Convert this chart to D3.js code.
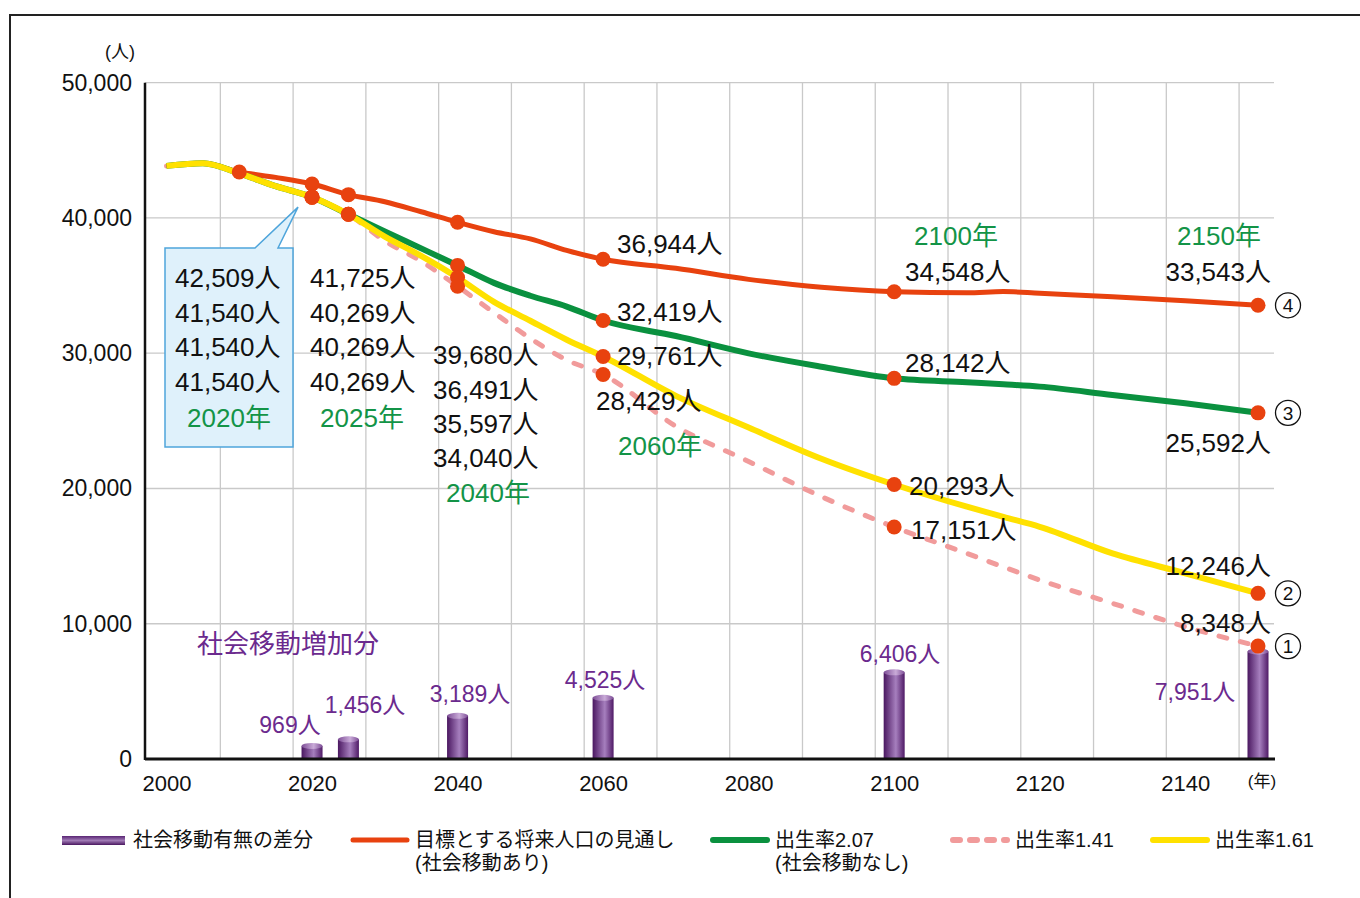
<!DOCTYPE html>
<html lang="ja">
<head>
<meta charset="utf-8">
<script src="https://cdn.jsdelivr.net/npm/d3@7"></script>
<style>
  body { margin: 0; background: #fff; }
  svg text { font-family: "Liberation Sans", "Noto Sans CJK JP", sans-serif; }
</style>
</head>
<body>
<svg id="chart" width="1360" height="898"></svg>
<script>
// ---- data ----
const years      = [2000, 2005, 2010, 2015, 2020, 2025, 2030, 2035, 2040, 2045, 2050, 2055, 2060, 2070, 2080, 2090, 2100, 2110, 2115, 2120, 2130, 2140, 2150];
const targetPop  = [43850, 44050, 43400, 43000, 42509, 41725, 41200, 40460, 39680, 38980, 38450, 37600, 36944, 36280, 35460, 34870, 34548, 34470, 34560, 34430, 34180, 33880, 33543];
const rate207    = [43850, 44050, 43300, 42350, 41540, 40269, 39000, 37750, 36491, 35200, 34250, 33450, 32419, 31270, 29990, 29000, 28142, 27850, 27700, 27530, 26910, 26300, 25592];
const rate161    = [43850, 44050, 43300, 42350, 41540, 40269, 38620, 37200, 35597, 33800, 32400, 31000, 29761, 26850, 24500, 22200, 20293, 18650, 17900, 17170, 15200, 13730, 12246];
const rate141    = [43850, 44050, 43300, 42350, 41540, 40269, 38300, 36800, 34950, 33000, 31100, 29500, 28429, 24600, 22000, 19400, 17151, 15200, 14200, 13230, 11510, 9780, 8348];

const milestoneYears   = [2020, 2025, 2040, 2060, 2100, 2150];
const targetReported   = [42509, 41725, 39680, 36944, 34548, 33543];
const rate207Reported  = [41540, 40269, 36491, 32419, 28142, 25592];
const rate161Reported  = [41540, 40269, 35597, 29761, 20293, 12246];
const rate141Reported  = [41540, 40269, 34040, 28429, 17151, 8348];
const socialDiff       = [969, 1456, 3189, 4525, 6406, 7951];

const yTicks = [0, 10000, 20000, 30000, 40000, 50000];
const xTicks = [2000, 2020, 2040, 2060, 2080, 2100, 2120, 2140];

// ---- setup ----
const svg = d3.select('#chart');
const plot = {left: 145, right: 1274, top: 82.7, bottom: 759};

const x = d3.scaleLinear().domain([2000, 2150]).range([166.5, 1258]);
const y = d3.scaleLinear().domain([0, 50000]).range([plot.bottom, plot.top]);

const fmt = d3.format(',');
const RED = '#e8420f', GREEN = '#0a913f', YELLOW = '#ffe100', PINK = '#f19b9b';
const PURPLE = '#6b2a8e', YEARGREEN = '#139447';

// outer frame
svg.append('rect')
    .attr('x', 10).attr('y', 15)
    .attr('width', 1400).attr('height', 1000)
    .attr('fill', 'none').attr('stroke', '#222').attr('stroke-width', 2);

// gradients for the cylinders
const defs = svg.append('defs');
const g1 = defs.append('linearGradient').attr('id', 'barGrad').attr('x1', 0).attr('x2', 1).attr('y1', 0).attr('y2', 0);
g1.append('stop').attr('offset', '0%').attr('stop-color', '#4a1760');
g1.append('stop').attr('offset', '58%').attr('stop-color', '#a67fbe');
g1.append('stop').attr('offset', '100%').attr('stop-color', '#4f1a66');
const g2 = defs.append('linearGradient').attr('id', 'capGrad').attr('x1', 0).attr('x2', 1).attr('y1', 0).attr('y2', 0);
g2.append('stop').attr('offset', '0%').attr('stop-color', '#7d4d96');
g2.append('stop').attr('offset', '58%').attr('stop-color', '#c9abd8');
g2.append('stop').attr('offset', '100%').attr('stop-color', '#7d4d96');
const g3 = defs.append('linearGradient').attr('id', 'legGrad').attr('x1', 0).attr('x2', 0).attr('y1', 0).attr('y2', 1);
g3.append('stop').attr('offset', '0%').attr('stop-color', '#5a2574');
g3.append('stop').attr('offset', '50%').attr('stop-color', '#a07ab5');
g3.append('stop').attr('offset', '100%').attr('stop-color', '#4a1760');

// gridlines
const grid = svg.append('g').attr('stroke', '#c9c9c9').attr('stroke-width', 1.3);
grid.selectAll('.hg')
    .data(yTicks.filter(d => d > 0))
  .join('line')
    .attr('x1', plot.left).attr('x2', plot.right)
    .attr('y1', d => y(d)).attr('y2', d => y(d));
// vertical grid sits between the category ticks (Excel style)
grid.selectAll('.vg')
    .data(d3.range(2007.4, 2150, 10))
  .join('line')
    .attr('x1', d => x(d)).attr('x2', d => x(d))
    .attr('y1', plot.top).attr('y2', plot.bottom);

// axes
const yAxis = d3.axisLeft(y).tickValues(yTicks).tickFormat(fmt).tickSize(0).tickPadding(13);
svg.append('g')
    .attr('transform', `translate(${plot.left},0)`)
    .call(yAxis)
    .call(g => g.select('.domain').remove())
    .selectAll('text')
    .attr('font-size', 23).attr('fill', '#111')
    .style('font-family', '"Liberation Sans", sans-serif');

const xAxis = d3.axisBottom(x).tickValues(xTicks).tickFormat(d3.format('d')).tickSize(0).tickPadding(16);
svg.append('g')
    .attr('transform', `translate(0,${plot.bottom})`)
    .call(xAxis)
    .call(g => g.select('.domain').remove())
    .selectAll('text')
    .attr('font-size', 22).attr('fill', '#111')
    .style('font-family', '"Liberation Sans", sans-serif');

svg.append('line')
    .attr('x1', plot.left).attr('x2', plot.left)
    .attr('y1', plot.top).attr('y2', plot.bottom + 1)
    .attr('stroke', '#111').attr('stroke-width', 2.5);

svg.append('text').attr('x', 135).attr('y', 52).attr('dy', '0.35em')
    .attr('text-anchor', 'end').attr('font-size', 18).attr('fill', '#111').text('(人)');
svg.append('text').attr('x', 1262).attr('y', 781).attr('dy', '0.35em')
    .attr('text-anchor', 'middle').attr('font-size', 17).attr('fill', '#111').text('(年)');

// ---- bars (social movement difference) ----
const barW = 21, capRy = 3;
const bars = svg.append('g');
milestoneYears.forEach((yr, i) => {
  const cx = x(yr), top = y(socialDiff[i]);
  bars.append('rect')
      .attr('x', cx - barW / 2).attr('y', top)
      .attr('width', barW).attr('height', plot.bottom - top)
      .attr('fill', 'url(#barGrad)');
  bars.append('ellipse')
      .attr('cx', cx).attr('cy', top)
      .attr('rx', barW / 2).attr('ry', capRy)
      .attr('fill', 'url(#capGrad)');
});

svg.append('line')
    .attr('x1', plot.left).attr('x2', plot.right + 1)
    .attr('y1', plot.bottom).attr('y2', plot.bottom)
    .attr('stroke', '#111').attr('stroke-width', 3);

// bar labels
const barLabelPos = [[290, 725], [365, 705], [470, 694], [605, 680], [900, 654], [1195, 692]];
svg.append('g').selectAll('text')
    .data(socialDiff)
  .join('text')
    .attr('x', (d, i) => barLabelPos[i][0])
    .attr('y', (d, i) => barLabelPos[i][1])
    .attr('dy', '0.35em')
    .attr('text-anchor', 'middle')
    .attr('font-size', 23).attr('fill', PURPLE)
    .text(d => fmt(d) + '人');

svg.append('text').attr('x', 288).attr('y', 644).attr('dy', '0.35em')
    .attr('text-anchor', 'middle').attr('font-size', 26).attr('fill', PURPLE)
    .style('font-family', '"Noto Sans CJK JP", sans-serif')
    .text('社会移動増加分');

// ---- lines ----
const series = [
  {values: rate141,   color: PINK,   width: 5, dash: '8,14'},
  {values: targetPop, color: RED,    width: 5},
  {values: rate207,   color: GREEN,  width: 6},
  {values: rate161,   color: YELLOW, width: 6}
];
const line = d3.line()
    .x((d, i) => x(years[i]))
    .y(d => y(d))
    .curve(d3.curveMonotoneX);

svg.append('g').selectAll('path')
    .data(series)
  .join('path')
    .attr('d', d => line(d.values))
    .attr('fill', 'none')
    .attr('stroke', d => d.color)
    .attr('stroke-width', d => d.width)
    .attr('stroke-linecap', d => d.dash ? 'round' : 'butt')
    .attr('stroke-linejoin', 'round')
    .attr('stroke-dasharray', d => d.dash || null);

// markers
const markerPts = [];
[2010, ...milestoneYears].forEach(yr => markerPts.push([yr, targetPop[years.indexOf(yr)]]));
[rate207, rate161, rate141].forEach(vals =>
  milestoneYears.forEach(yr => markerPts.push([yr, vals[years.indexOf(yr)]])));
svg.append('g').selectAll('circle')
    .data(markerPts)
  .join('circle')
    .attr('cx', d => x(d[0])).attr('cy', d => y(d[1]))
    .attr('r', 7.5).attr('fill', RED);

// ---- callout box for 2020 ----
const tipX = x(2020) - 14, tipY = y(41540) + 10;
svg.append('path')
    .attr('d', `M165,248 L255,248 L${tipX},${tipY} L278,248 L293,248 L293,447 L165,447 Z`)
    .attr('fill', '#dff1fb').attr('stroke', '#4fa5db').attr('stroke-width', 1.5);

// ---- value labels ----
const seriesReported = [targetReported, rate207Reported, rate161Reported, rate141Reported];
const valueLabels = svg.append('g').attr('font-size', 26).attr('fill', '#111');
function addValue(val, xx, yy, anchor) {
  valueLabels.append('text')
      .attr('x', xx).attr('y', yy).attr('dy', '0.35em')
      .attr('text-anchor', anchor || 'start')
      .text(fmt(val) + '人');
}
function addYear(txt, xx, yy) {
  svg.append('text')
      .attr('x', xx).attr('y', yy).attr('dy', '0.35em')
      .attr('text-anchor', 'middle')
      .attr('font-size', 26).attr('fill', YEARGREEN)
      .text(txt);
}

// stacked columns 2020 / 2025 / 2040
[[0, 175, 278, 229, 418], [1, 310, 278, 362, 418]].forEach(([mi, lx, y0, yx, yy]) => {
  seriesReported.forEach((arr, k) => addValue(arr[mi], lx, y0 + k * 34.6));
  addYear(milestoneYears[mi] + '年', yx, yy);
});
seriesReported.forEach((arr, k) => addValue(arr[2], 433, 355 + k * 34.4));
addYear('2040年', 488, 493);

// 2060
const pos2060 = [[617, 244], [617, 312], [617, 356], [596, 401]];
seriesReported.forEach((arr, k) => addValue(arr[3], pos2060[k][0], pos2060[k][1]));
addYear('2060年', 660, 446);

// 2100
const pos2100 = [[905, 272], [905, 363], [909, 486], [911, 530]];
seriesReported.forEach((arr, k) => addValue(arr[4], pos2100[k][0], pos2100[k][1]));
addYear('2100年', 956, 236);

// 2150 (right aligned)
const pos2150 = [272, 443, 566, 623];
seriesReported.forEach((arr, k) => addValue(arr[5], 1271, pos2150[k], 'end'));
addYear('2150年', 1219, 236);

// circled series numbers
const circled = ['4', '3', '2', '1'];
const circG = svg.append('g');
seriesReported.forEach((arr, k) => {
  const cy = y([targetPop, rate207, rate161, rate141][k][years.length - 1]);
  circG.append('circle').attr('cx', 1288).attr('cy', cy).attr('r', 12.5)
      .attr('fill', '#fff').attr('stroke', '#111').attr('stroke-width', 1.3);
  circG.append('text').attr('x', 1288).attr('y', cy).attr('dy', '0.36em')
      .attr('text-anchor', 'middle').attr('font-size', 19).attr('fill', '#111')
      .text(circled[k]);
});

// ---- legend ----
const leg = svg.append('g').attr('font-size', 20).attr('fill', '#111');
leg.append('rect').attr('x', 62).attr('y', 836).attr('width', 63).attr('height', 9).attr('fill', 'url(#legGrad)');
leg.append('text').attr('x', 133).attr('y', 840).attr('dy', '0.35em').text('社会移動有無の差分');

const legLines = [
  {x: 350, color: RED,    width: 5, label: ['目標とする将来人口の見通し', '(社会移動あり)']},
  {x: 710, color: GREEN,  width: 6, label: ['出生率2.07', '(社会移動なし)']},
  {x: 950, color: PINK,   width: 6, dash: '7,10', label: ['出生率1.41']},
  {x: 1150, color: YELLOW, width: 6, label: ['出生率1.61']}
];
legLines.forEach(d => {
  leg.append('line')
      .attr('x1', d.x + 3).attr('x2', d.x + 57)
      .attr('y1', 840).attr('y2', 840)
      .attr('stroke', d.color).attr('stroke-width', d.width)
      .attr('stroke-linecap', 'round')
      .attr('stroke-dasharray', d.dash || null);
  d.label.forEach((t, i) => {
    leg.append('text').attr('x', d.x + 65).attr('y', 840 + i * 23).attr('dy', '0.35em').text(t);
  });
});
</script>
</body>
</html>
